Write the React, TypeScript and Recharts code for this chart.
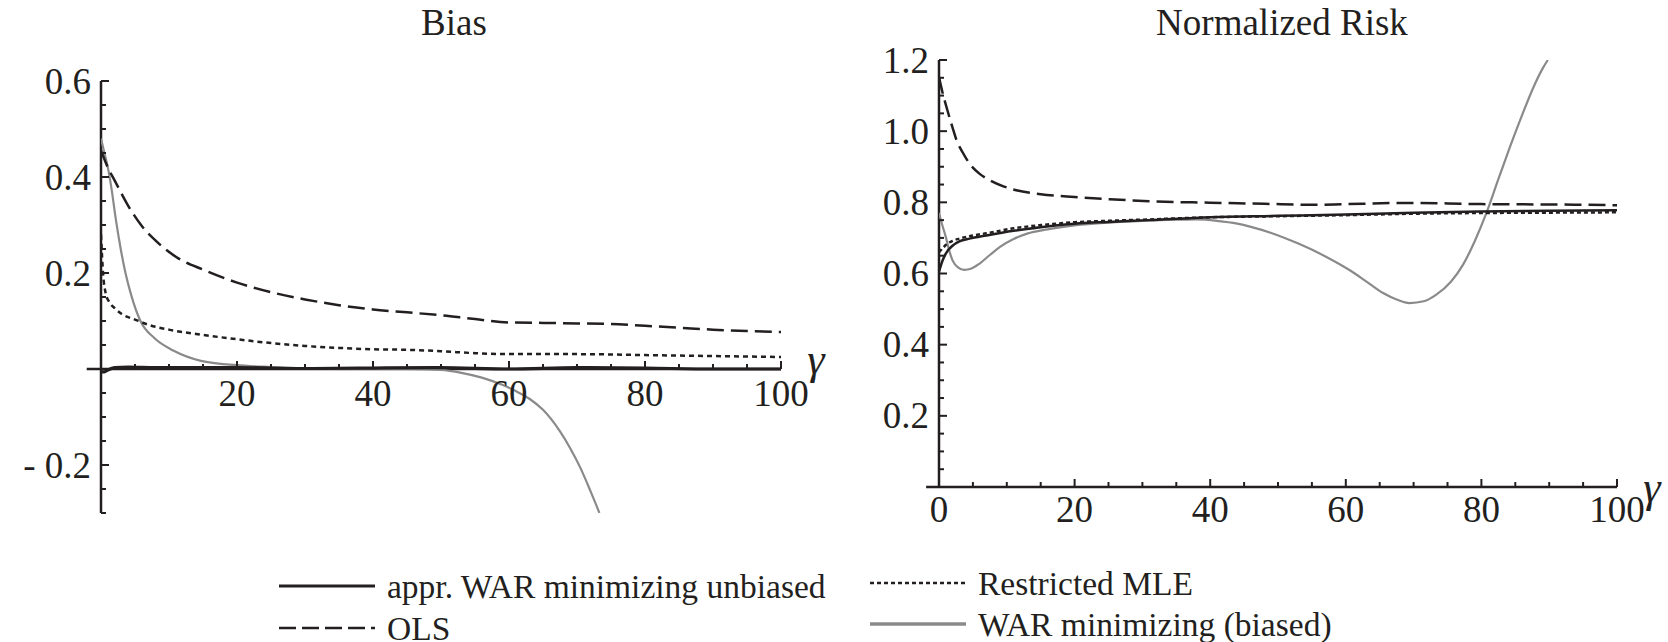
import { LineChart, Line, XAxis, YAxis, ReferenceLine, ReferenceDot } from 'recharts';

// gamma grid and values
const biasUnbiasedX = [0, 0.5, 1, 2, 4, 8, 15, 20, 30, 40, 50, 60, 70, 80, 90, 100];
const biasUnbiasedY = [-0.006, -0.006, -0.002, 0.003, 0.004, 0.003, 0.003, 0.003, 0.001, 0.002, 0.003, 0.0, 0.003, 0.002, 0.0, 0.0];

const biasOlsX = [0, 1, 2, 4, 6, 8, 11, 15, 20, 25, 30, 35, 40, 45, 50, 55, 60, 65, 70, 75, 80, 85, 90, 95, 100];
const biasOlsY = [0.455, 0.42, 0.393, 0.34, 0.298, 0.268, 0.234, 0.207, 0.18, 0.16, 0.145, 0.133, 0.124, 0.118, 0.112, 0.104, 0.097, 0.096, 0.095, 0.094, 0.09, 0.086, 0.082, 0.079, 0.077];

const biasMleX = [0, 0.3, 0.7, 1.2, 2, 3, 5, 7, 10, 15, 20, 25, 30, 35, 40, 45, 50, 55, 60, 70, 80, 90, 100];
const biasMleY = [0.28, 0.2, 0.157, 0.14, 0.127, 0.115, 0.103, 0.092, 0.082, 0.071, 0.062, 0.054, 0.048, 0.044, 0.041, 0.04, 0.037, 0.033, 0.031, 0.031, 0.029, 0.027, 0.025];

const biasWarX = [0, 0.5, 1, 1.5, 2.2, 2.9, 3.6, 4.4, 5.8, 7.8, 10.7, 14.7, 20, 25, 30, 40, 45, 50, 53, 56, 59, 61, 63, 65, 67.5, 69, 70.5, 72, 73.3];
const biasWarY = [0.48, 0.45, 0.42, 0.38, 0.31, 0.25, 0.2, 0.156, 0.1, 0.065, 0.038, 0.017, 0.008, 0.004, 0.001, 0.0, 0.0, -0.002, -0.008, -0.018, -0.033, -0.046, -0.062, -0.085, -0.13, -0.165, -0.206, -0.255, -0.3];

const riskUnbiasedX = [0, 0.5, 1, 2, 3, 4.5, 7, 11, 15, 20, 25, 31, 40, 50, 60, 70, 80, 90, 100];
const riskUnbiasedY = [0.605, 0.635, 0.656, 0.678, 0.69, 0.698, 0.707, 0.72, 0.73, 0.74, 0.745, 0.75, 0.758, 0.762, 0.766, 0.771, 0.774, 0.776, 0.778];

const riskMleX = [0, 0.5, 1, 2, 3, 4.5, 7, 11, 15, 20, 25, 31, 40, 50, 60, 70, 80, 90, 100];
const riskMleY = [0.66, 0.67, 0.68, 0.692, 0.698, 0.705, 0.713, 0.727, 0.736, 0.744, 0.748, 0.752, 0.758, 0.761, 0.764, 0.768, 0.77, 0.771, 0.772];

const riskOlsX = [0, 0.5, 1.1, 2, 2.6, 3.5, 4.5, 6, 7.5, 9.5, 11.4, 15, 20, 25, 31, 40, 48, 55, 60, 68, 75, 80, 90, 100];
const riskOlsY = [1.152, 1.11, 1.068, 1.01, 0.974, 0.94, 0.909, 0.88, 0.862, 0.845, 0.834, 0.823, 0.815, 0.809, 0.803, 0.799, 0.796, 0.793, 0.795, 0.798, 0.797, 0.795, 0.794, 0.792];

const riskWarX = [0, 0.5, 1, 1.5, 2, 2.8, 3.7, 4.8, 6, 7.5, 9, 11, 13, 16, 20, 25, 30, 35, 38, 41, 44, 46, 49, 53, 57, 60.6, 63, 65.5, 67.5, 69.4, 71.5, 73.3, 75.5, 77.3, 79, 80.7, 82.5, 84.2, 86, 87.6, 89, 89.8];
const riskWarY = [0.77, 0.735, 0.703, 0.665, 0.637, 0.617, 0.61, 0.614, 0.628, 0.652, 0.675, 0.697, 0.712, 0.724, 0.735, 0.743, 0.748, 0.751, 0.752, 0.748, 0.74, 0.731, 0.714, 0.684, 0.648, 0.609, 0.578, 0.545, 0.527, 0.517, 0.522, 0.54, 0.577, 0.625, 0.69, 0.768, 0.865, 0.955, 1.045, 1.12, 1.175, 1.2];

// axis ticks
const biasXLabels = [20, 40, 60, 80, 100];
const biasYLabels = [-0.2, 0.2, 0.4, 0.6];
const riskXLabels = [0, 20, 40, 60, 80, 100];
const riskYLabels = [0.2, 0.4, 0.6, 0.8, 1.0, 1.2];

const pts = (xs: number[], ys: number[]) => xs.map((x, i) => ({ x, y: ys[i] }));
const steps = (from: number, to: number, step: number) => {
  const out: number[] = [];
  for (let v = from; v <= to + 1e-9; v += step) out.push(Math.round(v * 100) / 100);
  return out;
};

const INK = '#231f20';
const GREY = '#8a8a8a';
const FONT = '"Liberation Serif", "DejaVu Serif", serif';

const yLabel = (v: number) => (v < 0 ? '- ' + Math.abs(v).toFixed(1) : v.toFixed(1));

function yTick(len: number, label?: string) {
  return (p: any) => (
    <g>
      <line x1={p.cx} y1={p.cy} x2={p.cx + len} y2={p.cy} stroke={INK} strokeWidth={2} />
      {label && (
        <text x={p.cx - 10} y={p.cy} textAnchor="end" dominantBaseline="central" fontFamily={FONT} fontSize={37} fill={INK}>
          {label}
        </text>
      )}
    </g>
  );
}

function xTick(len: number, label?: string, gap = 28) {
  return (p: any) => (
    <g>
      <line x1={p.cx} y1={p.cy} x2={p.cx} y2={p.cy - len} stroke={INK} strokeWidth={2} />
      {label && (
        <text x={p.cx} y={p.cy + gap} textAnchor="middle" dominantBaseline="central" fontFamily={FONT} fontSize={37} fill={INK}>
          {label}
        </text>
      )}
    </g>
  );
}

function axisMarks(xMinor: number[], xLabels: number[], yMinor: number[], yLabels: number[], xGap: number, ySkip: number) {
  const out: any[] = [];
  xMinor.forEach((v) => {
    const major = xLabels.includes(v);
    out.push(
      <ReferenceDot key={'x' + v} x={v} y={0} ifOverflow="visible" shape={xTick(major ? 8 : 5, major ? String(v) : undefined, xGap)} />
    );
  });
  yMinor.forEach((v) => {
    if (v === ySkip) return;
    const major = yLabels.some((l) => Math.abs(l - v) < 1e-6);
    out.push(
      <ReferenceDot key={'y' + v} x={0} y={v} ifOverflow="visible" shape={yTick(major ? 8 : 5, major ? yLabel(v) : undefined)} />
    );
  });
  return out;
}

const lineProps = { type: 'monotone' as const, dataKey: 'y', dot: false, activeDot: false, isAnimationActive: false };

const legendItems = [
  { label: 'appr. WAR minimizing unbiased', left: 279, top: 586, color: INK, width: 3 },
  { label: 'OLS', left: 279, top: 628, color: INK, width: 2.5, dash: '17 6' },
  { label: 'Restricted MLE', left: 870, top: 583, color: INK, width: 2.5, dash: '4 3' },
  { label: 'WAR minimizing (biased)', left: 870, top: 624, color: GREY, width: 3.5 },
];

export default function App() {
  const text = { position: 'absolute' as const, fontFamily: FONT, color: INK, whiteSpace: 'nowrap' as const, lineHeight: 1.15 };
  return (
    <div style={{ position: 'absolute', left: 0, top: 0, width: 1668, height: 642, background: '#fff', overflow: 'hidden' }}>
      <div style={{ ...text, left: 454, top: 23, fontSize: 37, transform: 'translate(-50%, -50%)' }}>Bias</div>
      <div style={{ ...text, left: 1282, top: 23, fontSize: 37, transform: 'translate(-50%, -50%)' }}>Normalized Risk</div>

      <div style={{ position: 'absolute', left: 0, top: 0 }}>
        <LineChart width={834} height={642} margin={{ top: 81, right: 53, left: 101, bottom: 129 }}>
          <XAxis type="number" dataKey="x" domain={[0, 100]} hide allowDataOverflow />
          <YAxis type="number" domain={[-0.3, 0.6]} hide allowDataOverflow />
          <ReferenceLine segment={[{ x: -2.1, y: 0 }, { x: 100, y: 0 }]} ifOverflow="visible" stroke={INK} strokeWidth={2.5} />
          <ReferenceLine x={0} stroke={INK} strokeWidth={2.5} />
          {axisMarks(steps(5, 100, 5), biasXLabels, steps(-0.3, 0.6, 0.05), biasYLabels, 24, 0)}
          <Line {...lineProps} data={pts(biasWarX, biasWarY)} stroke={GREY} strokeWidth={2.2} />
          <Line {...lineProps} data={pts(biasMleX, biasMleY)} stroke={INK} strokeWidth={2.5} strokeDasharray="5 4" />
          <Line {...lineProps} data={pts(biasOlsX, biasOlsY)} stroke={INK} strokeWidth={2.5} strokeDasharray="17 7" />
          <Line {...lineProps} data={pts(biasUnbiasedX, biasUnbiasedY)} stroke={INK} strokeWidth={3.2} />
        </LineChart>
      </div>

      <div style={{ position: 'absolute', left: 834, top: 0 }}>
        <LineChart width={834} height={642} margin={{ top: 60, right: 51, left: 105, bottom: 155 }}>
          <XAxis type="number" dataKey="x" domain={[0, 100]} hide allowDataOverflow />
          <YAxis type="number" domain={[0, 1.2]} hide allowDataOverflow />
          <ReferenceLine segment={[{ x: -1.9, y: 0 }, { x: 100, y: 0 }]} ifOverflow="visible" stroke={INK} strokeWidth={2.5} />
          <ReferenceLine x={0} stroke={INK} strokeWidth={2.5} />
          {axisMarks(steps(5, 100, 5), riskXLabels, steps(0.05, 1.2, 0.05), riskYLabels, 22, -1)}
          <ReferenceDot x={0} y={0} ifOverflow="visible" shape={xTick(0, '0', 22)} />
          <Line {...lineProps} data={pts(riskWarX, riskWarY)} stroke={GREY} strokeWidth={2.2} />
          <Line {...lineProps} data={pts(riskMleX, riskMleY)} stroke={INK} strokeWidth={2.5} strokeDasharray="4 3" />
          <Line {...lineProps} data={pts(riskOlsX, riskOlsY)} stroke={INK} strokeWidth={2.5} strokeDasharray="17 7" />
          <Line {...lineProps} data={pts(riskUnbiasedX, riskUnbiasedY)} stroke={INK} strokeWidth={2.5} />
        </LineChart>
      </div>

      <div style={{ ...text, left: 816, top: 360, fontSize: 44, fontStyle: 'italic', transform: 'translate(-50%, -50%)' }}>γ</div>
      <div style={{ ...text, left: 1652, top: 488, fontSize: 44, fontStyle: 'italic', transform: 'translate(-50%, -50%)' }}>γ</div>

      <svg width={1668} height={642} style={{ position: 'absolute', left: 0, top: 0, pointerEvents: 'none' }}>
        {legendItems.map((it) => (
          <g key={it.label}>
            <line x1={it.left} y1={it.top} x2={it.left + 96} y2={it.top} stroke={it.color} strokeWidth={it.width} strokeDasharray={it.dash} />
            <text x={it.left + 108} y={it.top} dominantBaseline="central" fontFamily={FONT} fontSize={33.5} fill={INK}>
              {it.label}
            </text>
          </g>
        ))}
      </svg>
    </div>
  );
}
